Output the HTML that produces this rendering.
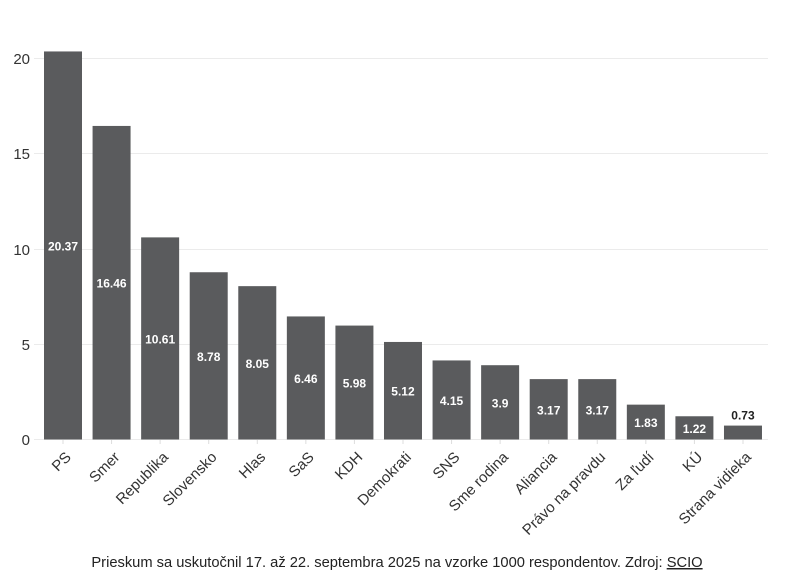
<!DOCTYPE html>
<html><head><style>body{margin:0;background:#fff}svg{display:block;font-family:"Liberation Sans",sans-serif}</style></head><body>
<svg width="794" height="582" xmlns="http://www.w3.org/2000/svg">
<g stroke="#ebebeb" stroke-width="1">
<line x1="34" x2="768" y1="439.5" y2="439.5"/>
<line x1="34" x2="768" y1="344.5" y2="344.5"/>
<line x1="34" x2="768" y1="249.5" y2="249.5"/>
<line x1="34" x2="768" y1="153.5" y2="153.5"/>
<line x1="34" x2="768" y1="58.5" y2="58.5"/>
</g>
<g font-size="15" fill="#333" text-anchor="end">
<text x="30" y="445">0</text><text x="30" y="350">5</text><text x="30" y="255">10</text><text x="30" y="159">15</text><text x="30" y="64">20</text>
</g>
<g fill="#5a5b5d">
<rect x="44" y="51.45" width="38" height="388.05"/>
<rect x="92.57" y="125.94" width="38" height="313.56"/>
<rect x="141.14" y="237.38" width="38" height="202.12"/>
<rect x="189.71" y="272.24" width="38" height="167.26"/>
<rect x="238.28" y="286.15" width="38" height="153.35"/>
<rect x="286.85" y="316.44" width="38" height="123.06"/>
<rect x="335.42" y="325.58" width="38" height="113.92"/>
<rect x="383.99" y="341.96" width="38" height="97.54"/>
<rect x="432.56" y="360.44" width="38" height="79.06"/>
<rect x="481.13" y="365.2" width="38" height="74.3"/>
<rect x="529.7" y="379.11" width="38" height="60.39"/>
<rect x="578.27" y="379.11" width="38" height="60.39"/>
<rect x="626.84" y="404.64" width="38" height="34.86"/>
<rect x="675.41" y="416.26" width="38" height="23.24"/>
<rect x="723.98" y="425.59" width="38" height="13.91"/>
</g>
<g stroke="#ddd">
<line x1="63" x2="63" y1="440" y2="444"/><line x1="111.57" x2="111.57" y1="440" y2="444"/><line x1="160.14" x2="160.14" y1="440" y2="444"/><line x1="208.71" x2="208.71" y1="440" y2="444"/><line x1="257.28" x2="257.28" y1="440" y2="444"/><line x1="305.85" x2="305.85" y1="440" y2="444"/><line x1="354.42" x2="354.42" y1="440" y2="444"/><line x1="402.99" x2="402.99" y1="440" y2="444"/><line x1="451.56" x2="451.56" y1="440" y2="444"/><line x1="500.13" x2="500.13" y1="440" y2="444"/><line x1="548.7" x2="548.7" y1="440" y2="444"/><line x1="597.27" x2="597.27" y1="440" y2="444"/><line x1="645.84" x2="645.84" y1="440" y2="444"/><line x1="694.41" x2="694.41" y1="440" y2="444"/><line x1="742.98" x2="742.98" y1="440" y2="444"/>
</g>
<g font-size="12" font-weight="bold" fill="#fff" text-anchor="middle">
<text x="63" y="250.5">20.37</text>
<text x="111.57" y="287.7">16.46</text>
<text x="160.14" y="343.4">10.61</text>
<text x="208.71" y="360.9">8.78</text>
<text x="257.28" y="367.8">8.05</text>
<text x="305.85" y="383">6.46</text>
<text x="354.42" y="387.5">5.98</text>
<text x="402.99" y="395.7">5.12</text>
<text x="451.56" y="405">4.15</text>
<text x="500.13" y="407.4">3.9</text>
<text x="548.7" y="414.3">3.17</text>
<text x="597.27" y="414.3">3.17</text>
<text x="645.84" y="427.1">1.83</text>
<text x="694.41" y="432.9">1.22</text>
<text x="742.98" y="419.6" fill="#222">0.73</text>
</g>
<g font-size="15" fill="#333" text-anchor="end">
<text transform="translate(72,458) rotate(-45)">PS</text>
<text transform="translate(120.57,458) rotate(-45)">Smer</text>
<text transform="translate(169.14,458) rotate(-45)">Republika</text>
<text transform="translate(217.71,458) rotate(-45)">Slovensko</text>
<text transform="translate(266.28,458) rotate(-45)">Hlas</text>
<text transform="translate(314.85,458) rotate(-45)">SaS</text>
<text transform="translate(363.42,458) rotate(-45)">KDH</text>
<text transform="translate(411.99,458) rotate(-45)">Demokrati</text>
<text transform="translate(460.56,458) rotate(-45)">SNS</text>
<text transform="translate(509.13,458) rotate(-45)">Sme rodina</text>
<text transform="translate(557.7,458) rotate(-45)">Aliancia</text>
<text transform="translate(606.27,458) rotate(-45)">Právo na pravdu</text>
<text transform="translate(654.84,458) rotate(-45)">Za ľudí</text>
<text transform="translate(703.41,458) rotate(-45)">KÚ</text>
<text transform="translate(751.98,458) rotate(-45)">Strana vidieka</text>
</g>
<text x="397" y="567" font-size="14.7" fill="#222" text-anchor="middle">Prieskum sa uskutočnil 17. až 22. septembra 2025 na vzorke 1000 respondentov. Zdroj: <tspan text-decoration="underline">SCIO</tspan></text>
</svg></body></html>
